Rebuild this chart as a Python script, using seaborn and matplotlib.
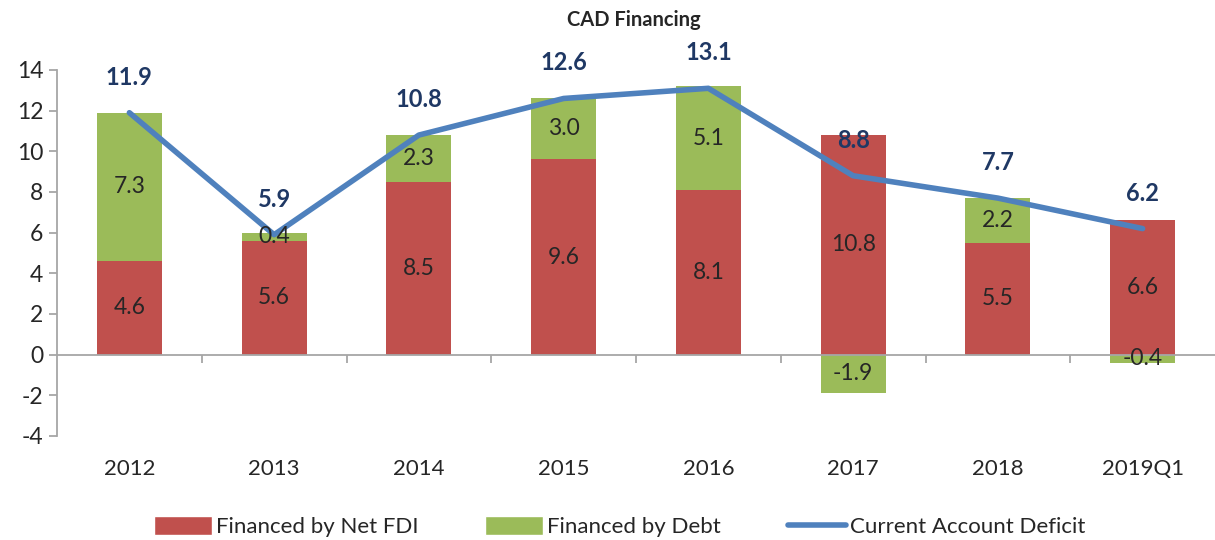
import numpy as np
import matplotlib
matplotlib.use("Agg")
import matplotlib.pyplot as plt
from matplotlib.patches import Patch
from matplotlib.lines import Line2D
import seaborn as sns

# Chart data
periods = ["2012", "2013", "2014", "2015", "2016", "2017", "2018", "2019Q1"]
fdi = [4.6, 5.6, 8.5, 9.6, 8.1, 10.8, 5.5, 6.6]
debt = [7.3, 0.4, 2.3, 3.0, 5.1, -1.9, 2.2, -0.4]
cad = [11.9, 5.9, 10.8, 12.6, 13.1, 8.8, 7.7, 6.2]

RED = "#C0504D"
GREEN = "#9BBB59"
BLUE = "#4F81BD"
NAVY = "#1F3864"
GRAY = "#A6A6A6"

sns.set_style("white")
plt.rcParams["font.family"] = ["Lato", "DejaVu Sans"]
plt.rcParams["axes.unicode_minus"] = False

fig = plt.figure(figsize=(12.15, 5.4), dpi=100)
ax = fig.add_axes([57 / 1215, 104 / 540, 1 - 57 / 1215, 366 / 540])

# stacked bars: debt sits on top of FDI when positive, below zero when negative
debt_bottom = np.where(np.array(debt) > 0, np.array(fdi), 0.0)
sns.barplot(x=periods, y=fdi, color=RED, saturation=1, width=0.45,
            edgecolor="none", ax=ax)
sns.barplot(x=periods, y=debt, bottom=debt_bottom, color=GREEN, saturation=1,
            width=0.45, edgecolor="none", ax=ax)

xpos = np.arange(len(periods))
sns.lineplot(x=xpos, y=cad, color=BLUE, linewidth=4, ax=ax)

# labels inside bars
for i in range(len(periods)):
    ax.text(i, fdi[i] / 2, f"{fdi[i]:.1f}", ha="center", va="center", fontsize=16.5)
    ax.text(i, debt_bottom[i] + debt[i] / 2, f"{debt[i]:.1f}", ha="center",
            va="center", fontsize=16.5)
    ax.text(i, cad[i] + 1.75, f"{cad[i]:.1f}", ha="center", va="center",
            fontsize=17, fontweight="bold", color=NAVY)

ax.set_xlim(-0.5, 7.5)
ax.set_ylim(-4, 14)
ax.set_yticks(range(-4, 15, 2))

# axes styling
for s in ["top", "right"]:
    ax.spines[s].set_visible(False)
ax.spines["left"].set_color(GRAY)
ax.spines["left"].set_linewidth(1.3)
ax.spines["bottom"].set_position(("data", 0))
ax.spines["bottom"].set_color(GRAY)
ax.spines["bottom"].set_linewidth(1.3)

ax.set_xticks(xpos)
ax.set_xticklabels(periods)
ax.set_xticks(xpos[:-1] + 0.5, minor=True)
ax.tick_params(axis="x", which="major", length=0, pad=75, labelsize=16)
ax.tick_params(axis="x", which="minor", direction="out", length=6, width=1.3,
               color=GRAY, bottom=True)
ax.tick_params(axis="y", direction="out", length=6, width=1.3, color=GRAY,
               left=True, labelsize=16.5, pad=4)
ax.set_xlabel("")
ax.set_ylabel("")
if ax.get_legend():
    ax.get_legend().remove()

fig.text(0.522, 0.963, "CAD Financing", ha="center", va="center",
         fontsize=14.5, fontweight="bold")

handles = [
    Patch(facecolor=RED, label="Financed by Net FDI"),
    Patch(facecolor=GREEN, label="Financed by Debt"),
    Line2D([0], [0], color=BLUE, linewidth=4, label="Current Account Deficit"),
]
fig.legend(handles=handles, loc="lower center", bbox_to_anchor=(0.51, -0.032),
           ncol=3, frameon=False, fontsize=16, handlelength=2.6,
           handleheight=0.9, handletextpad=0.2, columnspacing=3.0)

fig.savefig("out.png", dpi=100)
